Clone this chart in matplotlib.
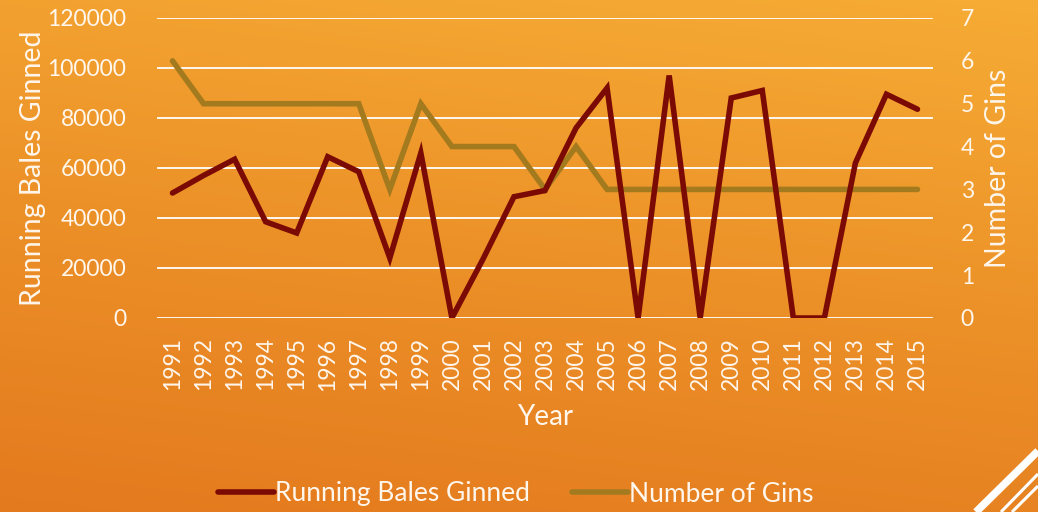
import numpy as np
import matplotlib.pyplot as plt
from matplotlib.colors import LinearSegmentedColormap

years = [str(y) for y in range(1991, 2016)]
bales = [50000, 57000, 63500, 38500, 34000, 64500, 58500, 24000, 66000, 0,
         23500, 48500, 51000, 76000, 92000, 0, 97000, 0, 88000, 91000,
         0, 0, 62000, 89500, 83500]
gins = [6, 5, 5, 5, 5, 5, 5, 3, 5, 4, 4, 4, 3, 4, 3, 3, 3, 3, 3, 3, 3, 3, 3, 3, 3]

plt.rcParams['font.family'] = ['Lato', 'DejaVu Sans']
txt = '#FFF6EC'

fig = plt.figure(figsize=(10.38, 5.12), dpi=100)

# orange gradient background
bg = fig.add_axes([0, 0, 1, 1])
yy, xx = np.mgrid[0:1:200j, 0:1:200j]
g = 0.8 * yy + 0.2 * xx
cmap = LinearSegmentedColormap.from_list('bg', ['#E47A1E', '#EC9128', '#F6AC35'])
bg.imshow(g, cmap=cmap, origin='lower', extent=[0, 1, 0, 1], aspect='auto')
bg.set_xlim(0, 1)
bg.set_ylim(0, 1)
bg.axis('off')

# decorative corner lines
W, H = 1038, 512
for (x0, x1, y1, lw) in [(976, 1038, 451, 5.5), (1001, 1038, 474, 2.2), (1012, 1038, 486, 2.2)]:
    bg.plot([x0 / W, x1 / W], [0, (H - y1) / H], color='white', lw=lw, solid_capstyle='butt')

ax = fig.add_axes([157 / W, 1 - 318 / H, (933 - 157) / W, 300 / H])
ax.set_facecolor('none')
x = np.arange(len(years))
ax2 = ax.twinx()

ax.set_ylim(0, 120000)
ax.set_yticks(range(0, 120001, 20000))
ax2.set_ylim(0, 7)
ax2.set_yticks(range(0, 8))
ax.set_xlim(-0.5, len(years) - 0.5)
ax.set_xticks(x)
ax.set_xticklabels(years, rotation=90, fontsize=16.5, color=txt)
ax.grid(axis='y', color='white', lw=1.3)
ax.set_axisbelow(True)

l2, = ax2.plot(x, gins, color='#A47A1F', lw=4, solid_capstyle='round', solid_joinstyle='miter', zorder=2)
l1, = ax2.plot(x, [b / 120000 * 7 for b in bales], color='#7A0A03', lw=4,
               solid_capstyle='round', solid_joinstyle='miter', zorder=3)

for a in (ax, ax2):
    for s in a.spines.values():
        s.set_visible(False)
    a.tick_params(length=0, colors=txt, labelsize=16.5)
ax.tick_params(axis='y', pad=22)
ax.tick_params(axis='x', pad=14)
ax2.tick_params(axis='y', pad=20)

ax.set_ylabel('Running Bales Ginned', fontsize=20.5, color=txt, labelpad=1)
ax2.set_ylabel('Number of Gins', fontsize=20.5, color=txt, labelpad=8)
ax.set_xlabel('Year', fontsize=20, color=txt, labelpad=10)

fig.legend([l1, l2], ['Running Bales Ginned', 'Number of Gins'], loc='center',
           bbox_to_anchor=(516 / W, 1 - 494 / H), ncol=2, frameon=False,
           fontsize=19, labelcolor=txt, handlelength=2.1, handletextpad=0.05,
           columnspacing=1.6)

fig.savefig('out.png', dpi=100)
